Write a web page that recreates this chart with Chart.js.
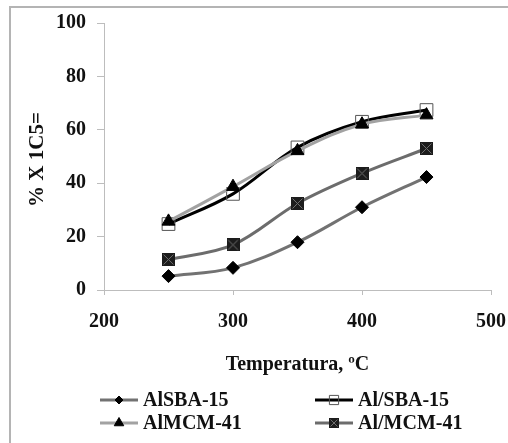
<!DOCTYPE html>
<html>
<head>
<meta charset="utf-8">
<script src="https://cdn.jsdelivr.net/npm/chart.js@4/dist/chart.umd.min.js"></script>
<style>
  html, body { margin: 0; padding: 0; background: #fff; }
  #wrap { position: relative; width: 508px; height: 443px; }
</style>
</head>
<body>
<div id="wrap"><canvas id="chart" width="508" height="443"></canvas></div>
<script>
// Conversion vs temperature
const temps = [250, 300, 350, 400, 450];
const seriesNames = ['AlSBA-15', 'Al/SBA-15', 'AlMCM-41', 'Al/MCM-41'];
const alSBA15 = [5.2, 8.3, 17.9, 31.0, 42.3];
const alSlashSBA15 = [24.7, 36.0, 53.4, 63.0, 67.4];
const alMCM41 = [25.7, 38.7, 52.1, 62.1, 65.5];
const alSlashMCM41 = [11.4, 16.9, 32.4, 43.7, 53.0];
const yTicks = [0, 20, 40, 60, 80, 100];
const xTicks = [200, 300, 400, 500];

const FONT = "'Liberation Serif', 'Times New Roman', serif";

// square with an X in it, used as marker for Al/MCM-41
function crossSquare(size) {
    const c = document.createElement('canvas');
    c.width = size; c.height = size;
    const g = c.getContext('2d');
    g.fillStyle = '#1c1c1c';
    g.fillRect(0, 0, size, size);
    g.strokeStyle = '#6e6e6e';
    g.lineWidth = 1;
    g.beginPath();
    g.moveTo(1.5, 1.5); g.lineTo(size - 1.5, size - 1.5);
    g.moveTo(size - 1.5, 1.5); g.lineTo(1.5, size - 1.5);
    g.stroke();
    return c;
}
const xSquareBig = crossSquare(13);
const xSquareSmall = crossSquare(10);

function toPoints(values) {
    return temps.map((t, i) => ({ x: t, y: values[i] }));
}

const datasets = [
    {
        label: seriesNames[0], data: toPoints(alSBA15),
        borderColor: '#727272', borderWidth: 3,
        pointStyle: 'rectRot', pointRadius: 6.5,
        pointBackgroundColor: '#000', pointBorderColor: '#000', pointBorderWidth: 1,
        legendRadius: 4, order: 4
    },
    {
        label: seriesNames[1], data: toPoints(alSlashSBA15),
        borderColor: '#000', borderWidth: 3,
        pointStyle: 'rect', pointRadius: 9,
        pointBackgroundColor: 'rgba(0,0,0,0)', pointBorderColor: '#555', pointBorderWidth: 1,
        legendRadius: 6.5, order: 3
    },
    {
        label: seriesNames[2], data: toPoints(alMCM41),
        borderColor: '#a2a2a2', borderWidth: 3,
        pointStyle: 'triangle', pointRadius: 7.5,
        pointBackgroundColor: '#000', pointBorderColor: '#000', pointBorderWidth: 1,
        legendRadius: 5.5, order: 2
    },
    {
        label: seriesNames[3], data: toPoints(alSlashMCM41),
        borderColor: '#6c6c6c', borderWidth: 3,
        pointStyle: xSquareBig, pointRadius: 7,
        legendImage: xSquareSmall, order: 1
    }
];

// frame, axis titles and the two-column legend
const decorations = {
    id: 'decorations',
    beforeDraw(chart) {
        const ctx = chart.ctx;
        ctx.save();
        ctx.strokeStyle = '#b4b4b4';
        ctx.lineWidth = 2;
        ctx.beginPath();
        ctx.moveTo(10, 443);
        ctx.lineTo(10, 7);
        ctx.lineTo(508, 7);
        ctx.stroke();
        ctx.restore();
    },
    afterDraw(chart) {
        const ctx = chart.ctx;
        const area = chart.chartArea;
        ctx.save();
        ctx.fillStyle = '#111';
        ctx.font = 'bold 20px ' + FONT;
        ctx.textAlign = 'center';
        ctx.textBaseline = 'middle';
        ctx.fillText('Temperatura, ºC', (area.left + area.right) / 2, 365);

        ctx.save();
        ctx.translate(38, (area.top + area.bottom) / 2 + 3);
        ctx.rotate(-Math.PI / 2);
        ctx.font = 'bold 21px ' + FONT;
        ctx.fillText('% X 1C5=', 0, 0);
        ctx.restore();

        const colX = [100, 315];
        const rowY = [400, 423];
        ctx.font = 'bold 20px ' + FONT;
        ctx.textAlign = 'left';
        chart.data.datasets.forEach((ds, i) => {
            const x0 = colX[i % 2];
            const y = rowY[Math.floor(i / 2)];
            ctx.strokeStyle = ds.borderColor;
            ctx.lineWidth = 3;
            ctx.beginPath();
            ctx.moveTo(x0, y);
            ctx.lineTo(x0 + 38, y);
            ctx.stroke();
            const cx = x0 + 19;
            if (ds.legendImage) {
                const s = ds.legendImage.width;
                ctx.drawImage(ds.legendImage, cx - s / 2, y - s / 2);
            } else {
                ctx.fillStyle = ds.pointBackgroundColor;
                ctx.strokeStyle = ds.pointBorderColor;
                ctx.lineWidth = 1;
                Chart.helpers.drawPoint(ctx, {
                    pointStyle: ds.pointStyle, radius: ds.legendRadius,
                    rotation: 0, borderWidth: 1
                }, cx, y);
            }
            ctx.fillStyle = '#111';
            ctx.fillText(ds.label, x0 + 43, y + 1);
        });
        ctx.restore();
    }
};

new Chart(document.getElementById('chart'), {
    type: 'line',
    data: { datasets: datasets },
    options: {
        responsive: false,
        animation: false,
        layout: { padding: { left: 0, right: 17, top: 23, bottom: 103 } },
        elements: { line: { tension: 0.35 } },
        plugins: {
            legend: { display: false },
            tooltip: { enabled: false }
        },
        scales: {
            x: {
                type: 'linear', min: xTicks[0], max: xTicks[xTicks.length - 1],
                afterBuildTicks: s => { s.ticks = xTicks.map(v => ({ value: v })); },
                afterFit: s => { s.height = 50; s.paddingLeft = 0; s.paddingRight = 0; },
                grid: { drawOnChartArea: false, drawTicks: true, tickLength: 5, color: '#bdbdbd' },
                border: { color: '#bdbdbd', width: 1 },
                ticks: { color: '#111', padding: 15, font: { family: FONT, size: 20, weight: 'bold' } }
            },
            y: {
                min: yTicks[0], max: yTicks[yTicks.length - 1],
                afterBuildTicks: s => { s.ticks = yTicks.map(v => ({ value: v })); },
                afterFit: s => { s.width = 104; },
                grid: { drawOnChartArea: false, drawTicks: true, tickLength: 7, color: '#bdbdbd' },
                border: { color: '#bdbdbd', width: 1 },
                ticks: { color: '#111', padding: 11, font: { family: FONT, size: 20, weight: 'bold' } }
            }
        }
    },
    plugins: [decorations]
});
</script>
</body>
</html>
